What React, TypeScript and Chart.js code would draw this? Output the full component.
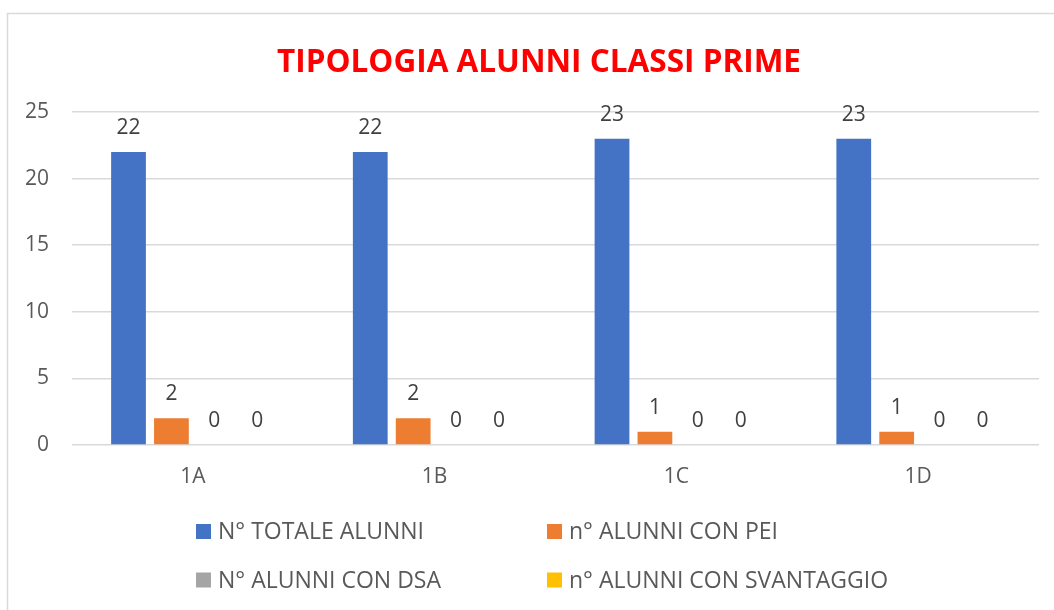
import React, { useEffect, useRef } from "react";
import { Chart, registerables } from "chart.js";

Chart.register(...registerables);

const categories = ["1A", "1B", "1C", "1D"];
const totaleAlunni = [22, 22, 23, 23];
const alunniPei = [2, 2, 1, 1];
const alunniDsa = [0, 0, 0, 0];
const alunniSvantaggio = [0, 0, 0, 0];
const seriesLabels = [
  "N° TOTALE ALUNNI",
  "n° ALUNNI CON PEI",
  "N° ALUNNI CON DSA",
  "n° ALUNNI CON SVANTAGGIO",
];
const seriesColors = ["#4472C4", "#ED7D31", "#A5A5A5", "#FFC000"];
const titleText = "TIPOLOGIA ALUNNI CLASSI PRIME";
const yTicks = [0, 5, 10, 15, 20, 25];

const FONT = "'Open Sans', sans-serif";
const TITLE_FONT = "'Open Sans', sans-serif";

const decorPlugin = {
  id: "decor",
  beforeDraw(chart: any) {
    const ctx = chart.ctx;
    ctx.save();
    ctx.fillStyle = "#ffffff";
    ctx.fillRect(0, 0, chart.width, chart.height);
    ctx.strokeStyle = "#d9d9d9";
    ctx.lineWidth = 1.5;
    ctx.beginPath();
    ctx.moveTo(7.5, chart.height);
    ctx.lineTo(7.5, 13.5);
    ctx.lineTo(chart.width, 13.5);
    ctx.stroke();
    ctx.restore();
  },
  afterDatasetsDraw(chart: any) {
    const ctx = chart.ctx;
    ctx.save();
    ctx.font = `21px ${FONT}`;
    ctx.fillStyle = "#404040";
    ctx.textAlign = "center";
    ctx.textBaseline = "alphabetic";
    chart.data.datasets.forEach((ds: any, i: number) => {
      const meta = chart.getDatasetMeta(i);
      meta.data.forEach((bar: any, j: number) => {
        ctx.fillText(String(ds.data[j]), bar.x, bar.y - 18);
      });
    });
    ctx.restore();
  },
  afterDraw(chart: any) {
    const ctx = chart.ctx;
    ctx.save();
    // title
    ctx.font = `bold 31.5px ${TITLE_FONT}`;
    ctx.fillStyle = "#FF0000";
    ctx.textAlign = "center";
    ctx.textBaseline = "alphabetic";
    ctx.fillText(titleText, 539, 72);
    // legend
    ctx.font = `23px ${FONT}`;
    ctx.textAlign = "left";
    ctx.textBaseline = "middle";
    const cols = [196, 547];
    const rows = [531.5, 580];
    chart.data.datasets.forEach((ds: any, i: number) => {
      const x = cols[i % 2];
      const y = rows[Math.floor(i / 2)];
      ctx.fillStyle = ds.backgroundColor;
      ctx.fillRect(x, y - 7.5, 15, 15);
      ctx.fillStyle = "#595959";
      ctx.fillText(ds.label, x + 22, y + 1);
    });
    ctx.restore();
  },
};

export default function App() {
  const canvasRef = useRef<HTMLCanvasElement | null>(null);

  useEffect(() => {
    document.body.style.margin = "0";
    document.body.style.overflow = "hidden";
    const canvas = canvasRef.current;
    if (!canvas) return;
    const seriesData = [totaleAlunni, alunniPei, alunniDsa, alunniSvantaggio];
    const chart = new Chart(canvas, {
      type: "bar",
      data: {
        labels: categories,
        datasets: seriesData.map((d, i) => ({
          label: seriesLabels[i],
          data: d,
          backgroundColor: seriesColors[i],
          categoryPercentage: 0.71,
          barPercentage: 0.81,
        })),
      },
      options: {
        responsive: false,
        animation: false,
        layout: { padding: { left: 0, right: 15, top: 112, bottom: 125 } },
        plugins: {
          legend: { display: false },
          title: { display: false },
          tooltip: { enabled: false },
        },
        scales: {
          x: {
            grid: { display: false, drawTicks: false },
            border: { display: false },
            ticks: {
              color: "#595959",
              font: { family: FONT, size: 21 },
              padding: 19,
            },
            afterFit: (s: any) => {
              s.height = 40;
            },
          },
          y: {
            min: 0,
            max: 25,
            afterBuildTicks: (s: any) => {
              s.ticks = yTicks.map((v) => ({ value: v }));
            },
            grid: { color: "#d9d9d9", lineWidth: 1.5, drawTicks: false },
            border: { display: false },
            ticks: {
              color: "#595959",
              font: { family: FONT, size: 21 },
              padding: 23,
            },
            afterFit: (s: any) => {
              s.width = 72;
            },
          },
        },
      },
      plugins: [decorPlugin],
    });
    return () => chart.destroy();
  }, []);

  return (
    <div style={{ width: 1054, height: 610 }}>
      <canvas ref={canvasRef} width={1054} height={610} style={{ display: "block" }} />
    </div>
  );
}
